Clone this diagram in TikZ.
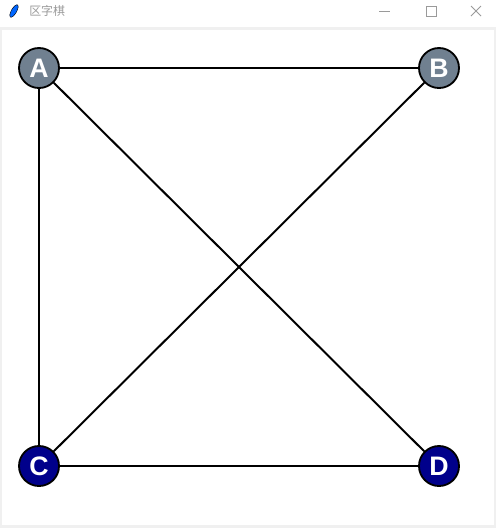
\documentclass[tikz,border=0pt]{standalone}
\usepackage{fontspec}
\setmainfont{Liberation Sans}
\newfontfamily\cjk{Noto Sans CJK SC}
\usetikzlibrary{calc,positioning}
\definecolor{slategray}{HTML}{708090}
\definecolor{navyblue}{HTML}{00008B}
\definecolor{winbg}{HTML}{F0F0F0}
\definecolor{titlegray}{HTML}{9A9A9A}
\tikzset{
  stone/.style={circle, draw=black, line width=1.3pt, minimum size=1cm, inner sep=0pt,
    text=white, font=\fontsize{19}{19}\selectfont\bfseries},
  upper/.style={stone, fill=slategray},
  lower/.style={stone, fill=navyblue},
  edge/.style={draw=black, line width=1.4pt},
  ctrl/.style={draw=titlegray, line width=0.6pt}
}

\begin{document}
\begin{tikzpicture}[x=0.025cm, y=-0.025cm]
  % window frame and canvas
  \fill[white] (0,0) rectangle (496,528);
  \fill[winbg] (0,27) rectangle (496,528);
  \fill[white] (2,30) rectangle (494,525);
  \useasboundingbox (0,0) rectangle (496,528);

  % title bar
  \fill[blue!60!cyan, draw=black, line width=0.3pt, rotate around={60:(14,11)}] (14,11) ellipse (7 and 2.6);
  \node[anchor=west, text=titlegray, font=\cjk\fontsize{8.5}{8.5}\selectfont, inner sep=0pt] (title) at (29,11) {区字棋};
  \draw[ctrl] (379,11) -- (390,11);
  \draw[ctrl] (426,6) rectangle (436,16);
  \draw[ctrl] (471,6) -- (481,16) (471,16) -- (481,6);

  % board points
  \node[upper] (A) at (39,68) {A};
  \node[upper] (B) at (439,68) {B};
  \node[lower] (C) at (39,466) {C};
  \node[lower] (D) at (439,466) {D};

  % lines
  \draw[edge] (A) -- (B);
  \draw[edge] (A) -- (C);
  \draw[edge] (A) -- (D);
  \draw[edge] (B) -- (C);
  \draw[edge] (C) -- (D);
\end{tikzpicture}
\end{document}
